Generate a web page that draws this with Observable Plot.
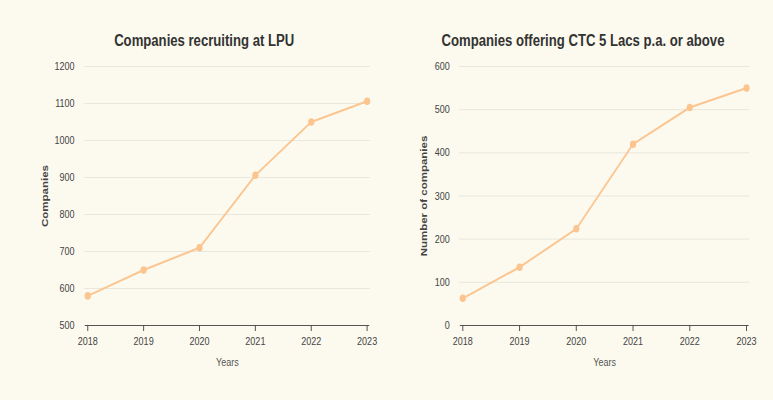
<!DOCTYPE html>
<html><head><meta charset="utf-8">
<script src="https://cdn.jsdelivr.net/npm/d3@7"></script>
<script src="https://cdn.jsdelivr.net/npm/@observablehq/plot@0.6"></script>
<style>
html,body{margin:0;padding:0;background:#fcfaee;}
#page{position:relative;width:773px;height:400px;overflow:hidden;background:#fcfaee;}
#inner{position:absolute;left:0;top:0;width:943px;height:400px;transform:scaleX(0.82);transform-origin:0 0;}
.chart{position:absolute;top:0;width:471px;height:400px;}
.title{position:absolute;top:32px;font:bold 16px "Liberation Sans",Arial,sans-serif;color:#333;white-space:nowrap;transform:translateX(-50%);}
</style></head><body>
<div id="page"><div id="inner">
  <div class="title" style="left:249px" id="t1"></div>
  <div class="title" style="left:711px" id="t2"></div>
  <div class="chart" id="c1" style="left:0"></div>
  <div class="chart" id="c2" style="left:471.5px"></div>
</div></div>
<script>
const years = [2018, 2019, 2020, 2021, 2022, 2023];
const recruiting = [580, 650, 710, 906, 1050, 1106];
const ctc5 = [63, 135, 224, 420, 505, 550];
const yTicks1 = [500, 600, 700, 800, 900, 1000, 1100, 1200];
const yTicks2 = [0, 100, 200, 300, 400, 500, 600];
const title1 = "Companies recruiting at LPU";
const title2 = "Companies offering CTC 5 Lacs p.a. or above";
const yLabel1 = "Companies";
const yLabel2 = "Number of companies";
const xLabel = "Years";

document.getElementById("t1").textContent = title1;
document.getElementById("t2").textContent = title2;

function makeChart(el, o) {
  const data = years.map((y, i) => ({year: y, value: o.values[i]}));
  const p = Plot.plot({
    width: 471, height: 400,
    marginTop: 66, marginBottom: 75, marginLeft: o.ml, marginRight: o.mr,
    style: {background: "transparent", fontFamily: "'Liberation Sans', Arial, sans-serif", color: "#444"},
    x: {domain: [2018, 2023]},
    y: {domain: [o.ticks[0], o.ticks[o.ticks.length - 1]]},
    marks: [
      Plot.ruleY(o.ticks, {stroke: "#e7e6dc", insetLeft: -4, insetRight: -4}),
      Plot.ruleY([o.ticks[0]], {stroke: "#555", strokeWidth: 1.2, insetLeft: -3, insetRight: -3}),
      Plot.axisX({ticks: years, tickFormat: d => String(d), tickSize: 6, tickPadding: 6, fontSize: 11,
        stroke: "#444", fill: "#444", label: xLabel, labelAnchor: "center", labelArrow: "none", labelOffset: 40}),
      Plot.axisY({ticks: o.ticks, tickFormat: d => String(d), tickSize: 0, tickPadding: 16, fontSize: 11, fill: "#444",
        label: o.ylabel, labelAnchor: "center", labelArrow: "none", labelOffset: o.lo}),
      Plot.line(data, {x: "year", y: "value", stroke: "#fcc48e", strokeWidth: 2}),
      Plot.dot(data, {x: "year", y: "value", fill: "#fcc48e", r: 3.8})
    ]
  });
  const yl = p.querySelector('[aria-label="y-axis label"]');
  if (yl) { yl.setAttribute("font-weight", "bold"); yl.setAttribute("font-size", "11.5"); }
  const xl = p.querySelector('[aria-label="x-axis label"]');
  if (xl) { xl.setAttribute("fill", "#555"); }
  el.appendChild(p);
}
makeChart(document.getElementById("c1"), {values: recruiting, ticks: yTicks1, ylabel: yLabel1, ml: 106.5, mr: 23.8, lo: 57});
makeChart(document.getElementById("c2"), {values: ctc5, ticks: yTicks2, ylabel: yLabel2, ml: 91.9, mr: 33.1, lo: 52});
</script>
</body></html>
